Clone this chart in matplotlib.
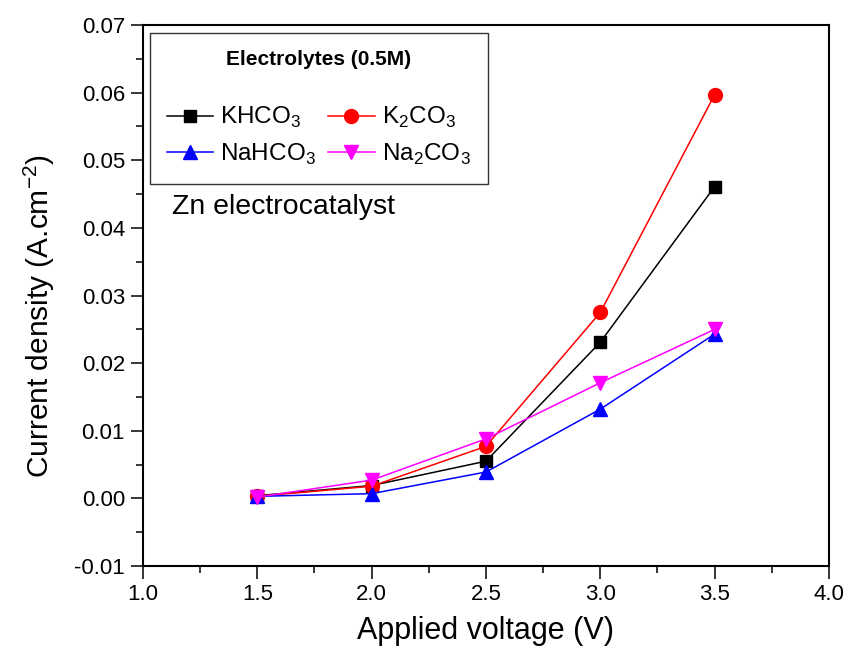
import matplotlib
matplotlib.use('Agg')
import matplotlib.pyplot as plt
from matplotlib.ticker import MultipleLocator, FormatStrFormatter

plt.rcParams['font.family'] = ['Liberation Sans', 'DejaVu Sans']
plt.rcParams['mathtext.fontset'] = 'custom'
plt.rcParams['mathtext.rm'] = 'Liberation Sans'

# Applied voltage (V)
voltage = [1.5, 2.0, 2.5, 3.0, 3.5]

# Current density (A/cm2) for each electrolyte
khco3 = [0.0004, 0.0019, 0.0055, 0.0231, 0.0461]
k2co3 = [0.0003, 0.0018, 0.0077, 0.0275, 0.0597]
nahco3 = [0.0003, 0.0007, 0.0039, 0.0132, 0.0243]
na2co3 = [0.0002, 0.0027, 0.0088, 0.0171, 0.0250]

labels = ['KHCO$_3$', 'K$_2$CO$_3$', 'NaHCO$_3$', 'Na$_2$CO$_3$']

fig = plt.figure(figsize=(8.48, 6.58), dpi=100)
ax = fig.add_axes([0.1686, 0.1398, 0.809, 0.8222])

l1, = ax.plot(voltage, khco3, color='black', marker='s', markersize=9, lw=1.1, label=labels[0])
l2, = ax.plot(voltage, k2co3, color='red', marker='o', markersize=10, lw=1.1, label=labels[1])
l3, = ax.plot(voltage, nahco3, color='blue', marker='^', markersize=10, lw=1.1, label=labels[2])
l4, = ax.plot(voltage, na2co3, color='magenta', marker='v', markersize=10, lw=1.1, label=labels[3])

ax.set_xlim(1.0, 4.0)
ax.set_ylim(-0.01, 0.07)
ax.xaxis.set_major_locator(MultipleLocator(0.5))
ax.xaxis.set_minor_locator(MultipleLocator(0.25))
ax.yaxis.set_major_locator(MultipleLocator(0.01))
ax.yaxis.set_minor_locator(MultipleLocator(0.005))
ax.xaxis.set_major_formatter(FormatStrFormatter('%.1f'))
ax.yaxis.set_major_formatter(FormatStrFormatter('%.2f'))

ax.tick_params(which='major', direction='out', length=9, width=1.1, labelsize=16, pad=4)
ax.tick_params(which='minor', direction='out', length=5, width=1.1)
for s in ax.spines.values():
    s.set_linewidth(1.5)

ax.set_xlabel('Applied voltage (V)', fontsize=22, labelpad=8)
ax.set_ylabel('Current density (A.cm$^{-2}$)', fontsize=21.5)
ax.yaxis.set_label_coords(-0.126, 0.462)

# column-wise fill: KHCO3 / NaHCO3 in first column, K2CO3 / Na2CO3 in second
leg = ax.legend([l1, l3, l2, l4], [labels[0], labels[2], labels[1], labels[3]],
                loc='upper left', bbox_to_anchor=(0.010, 0.985), borderaxespad=0,
                ncol=2, fontsize=17.5,
                title='Electrolytes (0.5M)', title_fontproperties={'weight': 'bold', 'size': 15},
                fancybox=False, edgecolor='black', handlelength=1.9, handletextpad=0.3,
                columnspacing=0.5, labelspacing=0.45, borderpad=0.7)
leg.get_frame().set_linewidth(1.0)
leg._legend_box.sep = 26

ax.text(0.043, 0.65, 'Zn electrocatalyst', transform=ax.transAxes, fontsize=20.5)

fig.savefig('out.png', dpi=100)
